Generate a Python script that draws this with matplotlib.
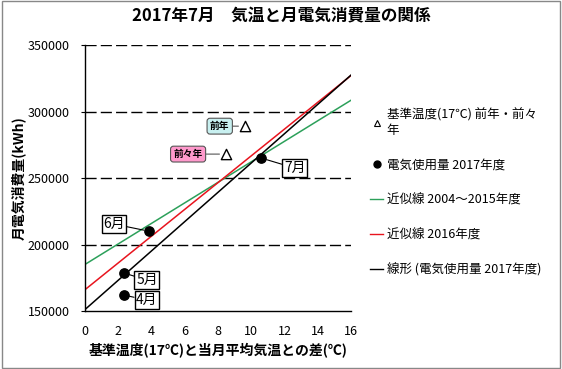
import matplotlib
matplotlib.use('Agg')
import matplotlib.pyplot as plt
import numpy as np
from matplotlib.lines import Line2D
from matplotlib.patches import Rectangle

plt.rcParams['font.family'] = ['Noto Sans CJK JP', 'DejaVu Sans']

# 2017 monthly data (temp difference, kWh)
months = ['4月', '5月', '6月', '7月']
temp_diff = [2.35, 2.35, 3.86, 10.6]
usage = [162000, 178600, 210000, 265000]

# reference temperature points (previous years)
ref_labels = ['前年', '前々年']
ref_x = [9.64, 8.5]
ref_y = [289000, 268000]

# approximation lines: intercept, slope
green_coef = [185000, 7725]
red_coef = [166000, 10075]

fig = plt.figure(figsize=(5.62, 3.69), dpi=100)
fig.patches.append(Rectangle((0.003, 0.004), 0.994, 0.992, transform=fig.transFigure,
                             fill=False, edgecolor='#888888', linewidth=1))
ax = fig.add_axes([0.151, 0.157, 0.474, 0.721])

xs = np.array([0, 16])
ax.plot(xs, green_coef[0] + green_coef[1] * xs, color='#2ca05a', lw=1.1)
ax.plot(xs, red_coef[0] + red_coef[1] * xs, color='#e8141e', lw=1.1)
k, b = np.polyfit(temp_diff, usage, 1)
ax.plot(xs, b + k * xs, color='black', lw=1.1)

ax.scatter(temp_diff, usage, s=45, color='black', zorder=5)
ax.scatter(ref_x, ref_y, s=55, marker='^', facecolor='white', edgecolor='black',
           linewidth=1, zorder=5)

# month labels
label_pos = [(3.73, 158300), (3.73, 173300), (1.75, 215400), (12.6, 257500)]
for m, x, y, (tx, ty) in zip(months, temp_diff, usage, label_pos):
    ax.annotate(m, xy=(x, y), xytext=(tx, ty), fontsize=10, ha='center', va='center',
                bbox=dict(boxstyle='square,pad=0.12', fc='white', ec='black', lw=1),
                arrowprops=dict(arrowstyle='-', color='black', lw=0.8,
                                shrinkA=0, shrinkB=4), zorder=6)

# callouts for previous years
call_pos = [(8.1, 289000), (6.2, 268000)]
call_col = ['#c8f0f0', '#ff99cc']
for t, x, y, (tx, ty), c in zip(ref_labels, ref_x, ref_y, call_pos, call_col):
    ax.annotate(t, xy=(x, y), xytext=(tx, ty), fontsize=7, fontweight='bold',
                ha='center', va='center',
                bbox=dict(boxstyle='round,pad=0.3', fc=c, ec='#555555', lw=0.8),
                arrowprops=dict(arrowstyle='-', color='#555555', lw=0.8,
                                shrinkA=0, shrinkB=5), zorder=6)

ax.set_xlim(0, 16)
ax.set_ylim(150000, 350000)
ax.set_xticks(range(0, 17, 2))
ax.set_yticks(range(150000, 350001, 50000))
ax.tick_params(labelsize=9, length=3, color='black', pad=8)
ax.tick_params(axis='x', length=0, pad=10)
for y in [200000, 250000, 300000, 350000]:
    ax.axhline(y, color='black', lw=1, ls=(0, (8, 3)), zorder=1)
ax.spines['top'].set_visible(False)
ax.spines['right'].set_visible(False)
ax.spines['left'].set_linewidth(1)
ax.spines['bottom'].set_linewidth(1)

ax.set_xlabel('基準温度(17℃)と当月平均気温との差(℃)', fontsize=10, fontweight='bold', labelpad=4)
ax.set_ylabel('月電気消費量(kWh)', fontsize=10, fontweight='bold', labelpad=1)
fig.suptitle('2017年7月　気温と月電気消費量の関係', fontsize=12, fontweight='bold', y=0.98)

handles = [
    Line2D([], [], marker='^', ls='none', mfc='white', mec='black', ms=5, mew=0.8),
    Line2D([], [], marker='o', ls='none', color='black', ms=5),
    Line2D([], [], color='#2ca05a', lw=1),
    Line2D([], [], color='#e8141e', lw=1),
    Line2D([], [], color='black', lw=1),
]
labels = ['基準温度(17℃) 前年・前々\n年', '電気使用量 2017年度', '近似線 2004～2015年度',
          '近似線 2016年度', '線形 (電気使用量 2017年度)']
fig.legend(handles, labels, loc='upper left', bbox_to_anchor=(0.65, 0.72), frameon=False,
           fontsize=9, handlelength=1.0, handletextpad=0.3, labelspacing=1.75,
           borderaxespad=0)

fig.savefig('out.png', dpi=100)
